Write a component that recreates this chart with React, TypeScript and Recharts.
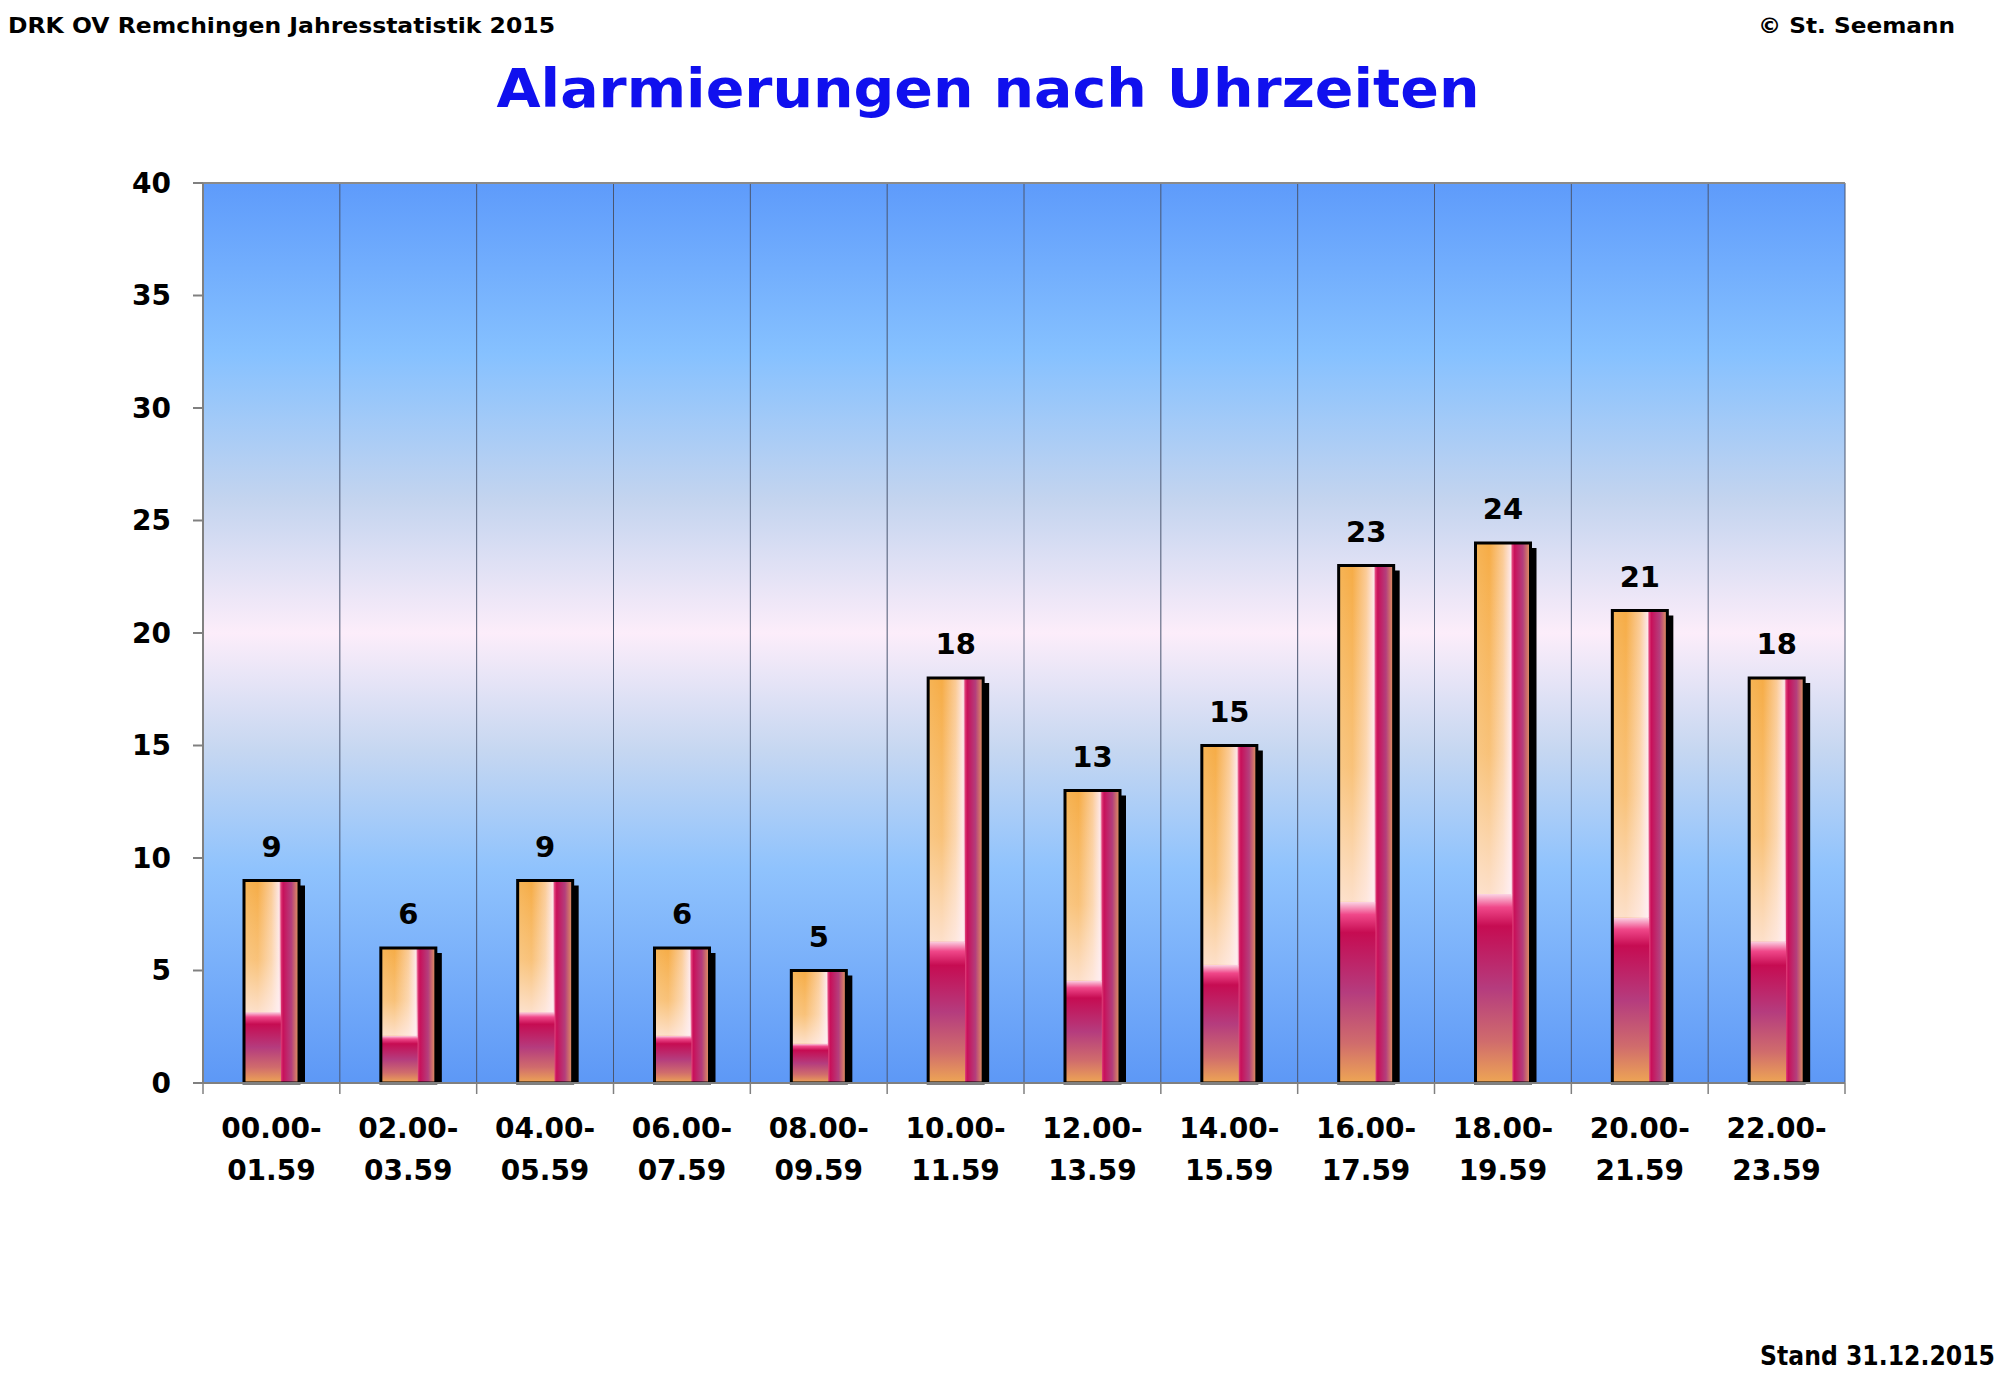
import React from 'react';
import {
    BarChart,
    Bar,
    XAxis,
    YAxis,
    CartesianGrid,
    ReferenceLine,
    LabelList
} from 'recharts';

// Zeitfenster (zweizeilige Achsenbeschriftung)
const slotStart = ['00.00-', '02.00-', '04.00-', '06.00-', '08.00-', '10.00-', '12.00-', '14.00-', '16.00-', '18.00-', '20.00-', '22.00-'];
const slotEnd = ['01.59', '03.59', '05.59', '07.59', '09.59', '11.59', '13.59', '15.59', '17.59', '19.59', '21.59', '23.59'];
const alarmCounts = [9, 6, 9, 6, 5, 18, 13, 15, 23, 24, 21, 18];
const yTicks = [0, 5, 10, 15, 20, 25, 30, 35, 40];

const data = slotStart.map((start, i) => ({
    slot: start,
    end: slotEnd[i],
    value: alarmCounts[i]
}));

const W = 2000;
const H = 1385;
const Y_AXIS_W = 60;
const PLOT_LEFT = 203;
const PLOT_RIGHT = 1845;
const PLOT_TOP = 183;
const PLOT_BOTTOM = 1083;
const X_AXIS_H = 120;
const PLOT_W = PLOT_RIGHT - PLOT_LEFT;
const BAND = PLOT_W / slotStart.length;

const FONT = '"Comic Sans MS", "DejaVu Sans", sans-serif';

const gridLines = slotStart.map((_, i) => PLOT_LEFT + (i + 1) * BAND);

// zweizeiliger Tick + Trennstrich zwischen den Kategorien
const SlotTick = (props: any) => {
    const { x, y, payload, index } = props;
    const row = data[index] || data.find(d => d.slot === payload.value);
    const left = x - BAND / 2;
    return (
        <g>
            <line x1={left} y1={y} x2={left} y2={y + 11} stroke="#808080" strokeWidth={1.5} />
            {index === data.length - 1 && (
                <line x1={x + BAND / 2} y1={y} x2={x + BAND / 2} y2={y + 11} stroke="#808080" strokeWidth={1.5} />
            )}
            <text x={x} y={y + 55} textAnchor="middle" fontSize={28} fontWeight="bold" fontFamily={FONT} fill="#000">
                {payload.value}
            </text>
            <text x={x} y={y + 97} textAnchor="middle" fontSize={28} fontWeight="bold" fontFamily={FONT} fill="#000">
                {row ? row.end : ''}
            </text>
        </g>
    );
};

// Balken mit Schatten und Verlauf
const FancyBar = (props: any) => {
    const { x, y, width, height } = props;
    if (!height || height <= 0) return null;
    const split = 0.67;
    const lowH = height * 0.35;
    return (
        <g>
            <rect x={x + 6} y={y + 5} width={width} height={height - 5} fill="#000" />
            <rect x={x} y={y} width={width} height={height} fill="url(#barH)" />
            <rect x={x} y={y} width={width * split} height={height - lowH} fill="url(#barWhite)" />
            <rect x={x} y={y + height - lowH} width={width * split} height={lowH} fill="url(#barLow)" />
            <rect x={x} y={y} width={width} height={height} fill="none" stroke="#000" strokeWidth={3} />
        </g>
    );
};

export default function App() {
    return (
        <div style={{ position: 'absolute', left: 0, top: 0, width: W, height: H, background: '#fff' }}>
            <BarChart
                width={W}
                height={H}
                data={data}
                margin={{
                    top: PLOT_TOP,
                    right: W - PLOT_RIGHT,
                    left: PLOT_LEFT - Y_AXIS_W,
                    bottom: H - PLOT_BOTTOM - X_AXIS_H
                }}
                barSize={55}
            >
                <defs>
                    <linearGradient id="bgGrad" x1="0" y1="0" x2="0" y2="1">
                        <stop offset="0" stopColor="#5e9bfb" />
                        <stop offset="0.19" stopColor="#86c1ff" />
                        <stop offset="0.35" stopColor="#c3d4ef" />
                        <stop offset="0.5" stopColor="#fcedfa" />
                        <stop offset="0.63" stopColor="#c6d7f1" />
                        <stop offset="0.76" stopColor="#90c3fd" />
                        <stop offset="1" stopColor="#5d98f6" />
                    </linearGradient>
                    <linearGradient id="barH" x1="0" y1="0" x2="1" y2="0">
                        <stop offset="0" stopColor="#f6b456" />
                        <stop offset="0.25" stopColor="#f6ac46" />
                        <stop offset="0.5" stopColor="#fbcb96" />
                        <stop offset="0.64" stopColor="#fde6e6" />
                        <stop offset="0.67" stopColor="#e0407a" />
                        <stop offset="0.71" stopColor="#c8105a" />
                        <stop offset="0.86" stopColor="#b43e7c" />
                        <stop offset="1" stopColor="#e49a5c" />
                    </linearGradient>
                    <linearGradient id="barWhite" x1="0" y1="0" x2="0" y2="1">
                        <stop offset="0" stopColor="#ffffff" stopOpacity={0} />
                        <stop offset="0.6" stopColor="#fff4f0" stopOpacity={0.3} />
                        <stop offset="1" stopColor="#fff0f4" stopOpacity={0.75} />
                    </linearGradient>
                    <linearGradient id="barLow" x1="0" y1="0" x2="0" y2="1">
                        <stop offset="0" stopColor="#fbd4e4" />
                        <stop offset="0.07" stopColor="#f0488a" />
                        <stop offset="0.17" stopColor="#c60c52" />
                        <stop offset="0.5" stopColor="#b53c7e" />
                        <stop offset="0.78" stopColor="#d06c6c" />
                        <stop offset="1" stopColor="#eea654" />
                    </linearGradient>
                </defs>
                <CartesianGrid
                    horizontal={false}
                    verticalPoints={gridLines}
                    stroke="#4a5670"
                    strokeWidth={1}
                    fill="url(#bgGrad)"
                />
                <XAxis
                    dataKey="slot"
                    height={X_AXIS_H}
                    interval={0}
                    tickLine={false}
                    tickSize={0}
                    tickMargin={0}
                    stroke="#808080"
                    strokeWidth={2}
                    tick={<SlotTick />}
                />
                <YAxis
                    width={Y_AXIS_W}
                    domain={[0, 40]}
                    ticks={yTicks}
                    interval={0}
                    stroke="#808080"
                    strokeWidth={2}
                    tickSize={10}
                    tickMargin={22}
                    tick={{ fill: '#000', fontSize: 28, fontWeight: 'bold', fontFamily: FONT }}
                />
                <ReferenceLine y={40} stroke="#8a8a8a" strokeWidth={2} />
                <Bar dataKey="value" shape={<FancyBar />} isAnimationActive={false}>
                    <LabelList
                        dataKey="value"
                        position="top"
                        offset={24}
                        fill="#000"
                        fontSize={29}
                        fontWeight="bold"
                        fontFamily={FONT}
                    />
                </Bar>
            </BarChart>
            <svg
                width={W}
                height={H}
                style={{ position: 'absolute', left: 0, top: 0, pointerEvents: 'none' }}
            >
                <text x={8} y={33} fontSize={21} fontWeight="bold" fontFamily={FONT} fill="#000"
                    textLength={547} lengthAdjust="spacingAndGlyphs">
                    DRK OV Remchingen Jahresstatistik 2015
                </text>
                <text x={1758} y={33} fontSize={21} fontWeight="bold" fontFamily={FONT} fill="#000"
                    textLength={197} lengthAdjust="spacingAndGlyphs">
                    © St. Seemann
                </text>
                <text x={988} y={107} textAnchor="middle" fontSize={54} fontWeight="bold" fontFamily={FONT}
                    fill="#1010ee" textLength={983} lengthAdjust="spacingAndGlyphs">
                    Alarmierungen nach Uhrzeiten
                </text>
                <text x={1760} y={1365} fontSize={27} fontWeight="bold" fontFamily={FONT} fill="#000"
                    textLength={235} lengthAdjust="spacingAndGlyphs">
                    Stand 31.12.2015
                </text>
            </svg>
        </div>
    );
}
